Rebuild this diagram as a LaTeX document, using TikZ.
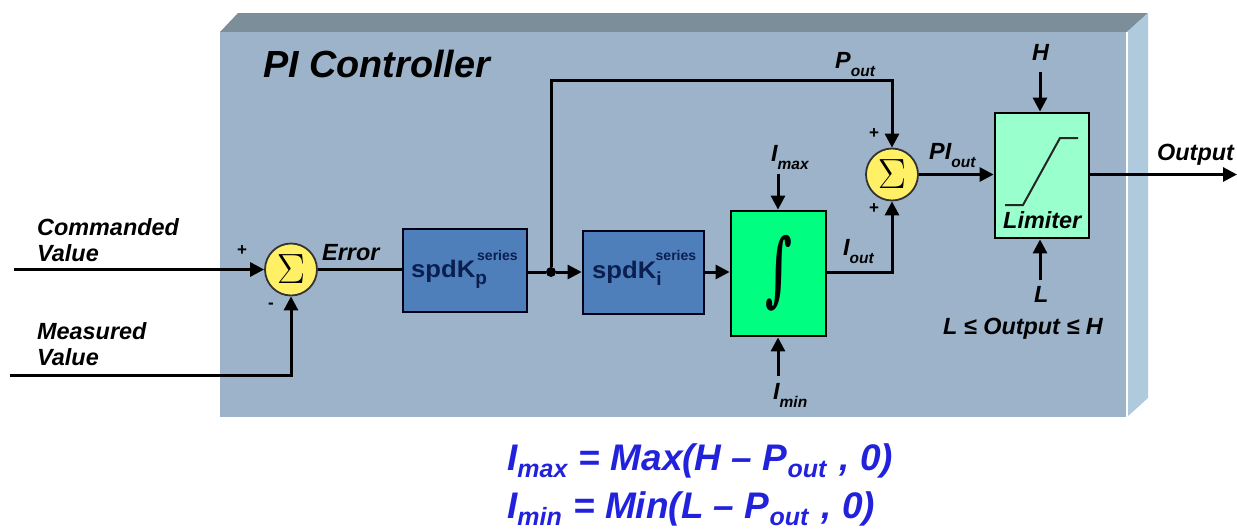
\documentclass[tikz,border=0pt]{standalone}
\usepackage{fontspec}
\setmainfont{Liberation Sans}
\newfontfamily\intfont{DejaVu Serif}
\usepackage{graphicx}
\usetikzlibrary{arrows.meta}
\definecolor{panelfront}{HTML}{9DB3C9}
\definecolor{paneltop}{HTML}{7B8E99}
\definecolor{panelside}{HTML}{AECADC}
\definecolor{gainblue}{HTML}{4F7FBB}
\definecolor{gaintext}{HTML}{0A1E50}
\definecolor{intgreen}{HTML}{00FF80}
\definecolor{limitgreen}{HTML}{99FFCC}
\definecolor{sumyellow}{HTML}{FFF066}
\definecolor{formulablue}{HTML}{2222DC}
\newcommand{\lowtxt}[1]{\raisebox{-0.38em}{\fontsize{15.5}{15.5}\selectfont #1}}
\newcommand{\lowform}[1]{\raisebox{-0.2em}{\fontsize{25}{25}\selectfont #1}}
\newcommand{\gainname}[1]{\scalebox{1.07}[1]{spdK}\raisebox{-0.3em}{\fontsize{19}{19}\selectfont #1}}
\begin{document}
\begin{tikzpicture}[
    x=1pt,
    y=-1pt,
    every node/.style={font=\fontsize{23.4}{26}\selectfont\bfseries\itshape, inner sep=0pt},
    label/.style={anchor=base west, align=left},
    sumnode/.style={circle, draw=black!80, line width=1.8pt, fill=sumyellow, minimum size=52pt, font=\fontsize{34}{34}\selectfont},
    gainbox/.style={draw=black!90!blue, line width=2.8pt, fill=gainblue},
    gaintxt/.style={anchor=base west, text=gaintext, font=\fontsize{24}{24}\selectfont\bfseries},
    seriestxt/.style={anchor=base west, text=gaintext, font=\fontsize{14}{14}\selectfont\bfseries},
    intbox/.style={draw=black, line width=2.8pt, fill=intgreen, font=\fontsize{62}{62}\selectfont\intfont\bfseries},
    limitbox/.style={draw=black, line width=2.8pt, fill=limitgreen},
    sign/.style={font=\fontsize{17}{17}\selectfont\bfseries},
    formula/.style={anchor=base west, text=formulablue, font=\fontsize{37}{40}\selectfont\bfseries\itshape},
    wire/.style={line width=3pt, draw=black},
    tip/.style={wire, -{Triangle[length=14pt, width=14pt]}}
]
    \useasboundingbox (0,0) rectangle (1237,531);

    \fill[paneltop] (220,32) -- (238,13) -- (1148,13) -- (1127,32) -- cycle;
    \fill[panelside] (1127,32) -- (1148,13) -- (1148,398) -- (1127,417) -- cycle;
    \fill[panelfront] (220,32) rectangle (1127,417);
    \draw[white, line width=2pt] (1127,32) -- (1127,417);

    \node[label, font=\fontsize{37.8}{40}\selectfont\bfseries\itshape] (title) at (263,77) {PI Controller};

    \node[sumnode] (sum1) at (291,269.5) {\scalebox{1.7}{$\Sigma$}};
    \node[gainbox, minimum width=124pt, minimum height=83pt] (kp) at (465,270.5) {};
    \node[gainbox, minimum width=121pt, minimum height=83pt] (ki) at (643.5,272.5) {};
    \node[intbox, minimum width=95pt, minimum height=125pt] (integ) at (778.5,273.5) {\raisebox{-2pt}{\scalebox{0.75}[1.3]{∫}}};
    \node[sumnode] (sum2) at (892,174.5) {\scalebox{1.7}{$\Sigma$}};
    \node[limitbox, minimum width=94pt, minimum height=125pt] (limit) at (1042,175.5) {};

    \node[gaintxt] (kptext) at (411,277) {\gainname{p}};
    \node[seriestxt] (kpseries) at (477,260) {series};
    \node[gaintxt] (kitext) at (592,278) {\gainname{i}};
    \node[seriestxt] (kiseries) at (655.5,260) {series};

    \draw[line width=2pt, black!85] (1005,205) -- (1023,205) -- (1060,138) -- (1078,138);
    \node[label] (limitertext) at (1003,228) {Limiter};

    \coordinate (cmdin) at (14,269.5);
    \coordinate (measin) at (10,375.5);
    \coordinate (outend) at (1237,174.5);
    \coordinate (hin) at (1040,72);
    \coordinate (lin) at (1040,280);
    \coordinate (imaxin) at (778,174);
    \coordinate (iminin) at (778,376);
    \coordinate (pturn) at (551,80);
    \coordinate (iturn) at (892,272);
    \node[circle, fill=black, minimum size=10pt] (tap) at (551,272) {};

    \draw[tip] (cmdin) -- (sum1);
    \draw[tip] (measin) -| (sum1);
    \draw[wire] (sum1) -- (kp.west |- sum1);
    \draw[wire] (kp.east |- tap) -- (tap);
    \draw[tip] (tap) -- (ki.west |- tap);
    \draw[tip] (ki.east |- tap) -- (integ.west |- tap);
    \draw[tip] (tap) -- (pturn) -| (sum2);
    \draw[tip] (integ.east |- iturn) -- (iturn) -- (sum2);
    \draw[tip] (sum2) -- (limit.west |- sum2);
    \draw[tip] (limit.east |- sum2) -- (outend);
    \draw[tip] (hin) -- (hin |- limit.north);
    \draw[tip] (lin) -- (lin |- limit.south);
    \draw[tip] (imaxin) -- (imaxin |- integ.north);
    \draw[tip] (iminin) -- (iminin |- integ.south);

    \node[label] (cmdtext) at (37,261) {Commanded\\Value};
    \node[label] (meastext) at (37,365) {Measured\\Value};
    \node[label] (errtext) at (322,260) {Error};
    \node[label] (pouttext) at (835,68) {P\lowtxt{out}};
    \node[label] (pitext) at (929,159) {PI\lowtxt{out}};
    \node[label] (iouttext) at (843,255) {I\lowtxt{out}};
    \node[label] (imaxtext) at (771,161) {I\lowtxt{max}};
    \node[label] (imintext) at (773,399) {I\lowtxt{min}};
    \node[label] (htext) at (1032,60) {H};
    \node[label] (ltext) at (1034,302) {L};
    \node[label] (rangetext) at (943,334) {L ≤ Output ≤ H};
    \node[label] (outtext) at (1157,160) {Output};

    \node[sign] (plus1) at (242,251) {+};
    \node[sign] (minus1) at (271,306) {-};
    \node[sign] (plus2) at (874,134) {+};
    \node[sign] (plus3) at (874,209) {+};

    \node[formula] (imaxform) at (507,470) {I\lowform{max}\hspace{1pt} = Max(H – P\lowform{out}\hspace{3pt} , 0)};
    \node[formula] (iminform) at (507,518) {I\lowform{min}\hspace{1pt} = Min(L – P\lowform{out}\hspace{3pt} , 0)};
\end{tikzpicture}
\end{document}
